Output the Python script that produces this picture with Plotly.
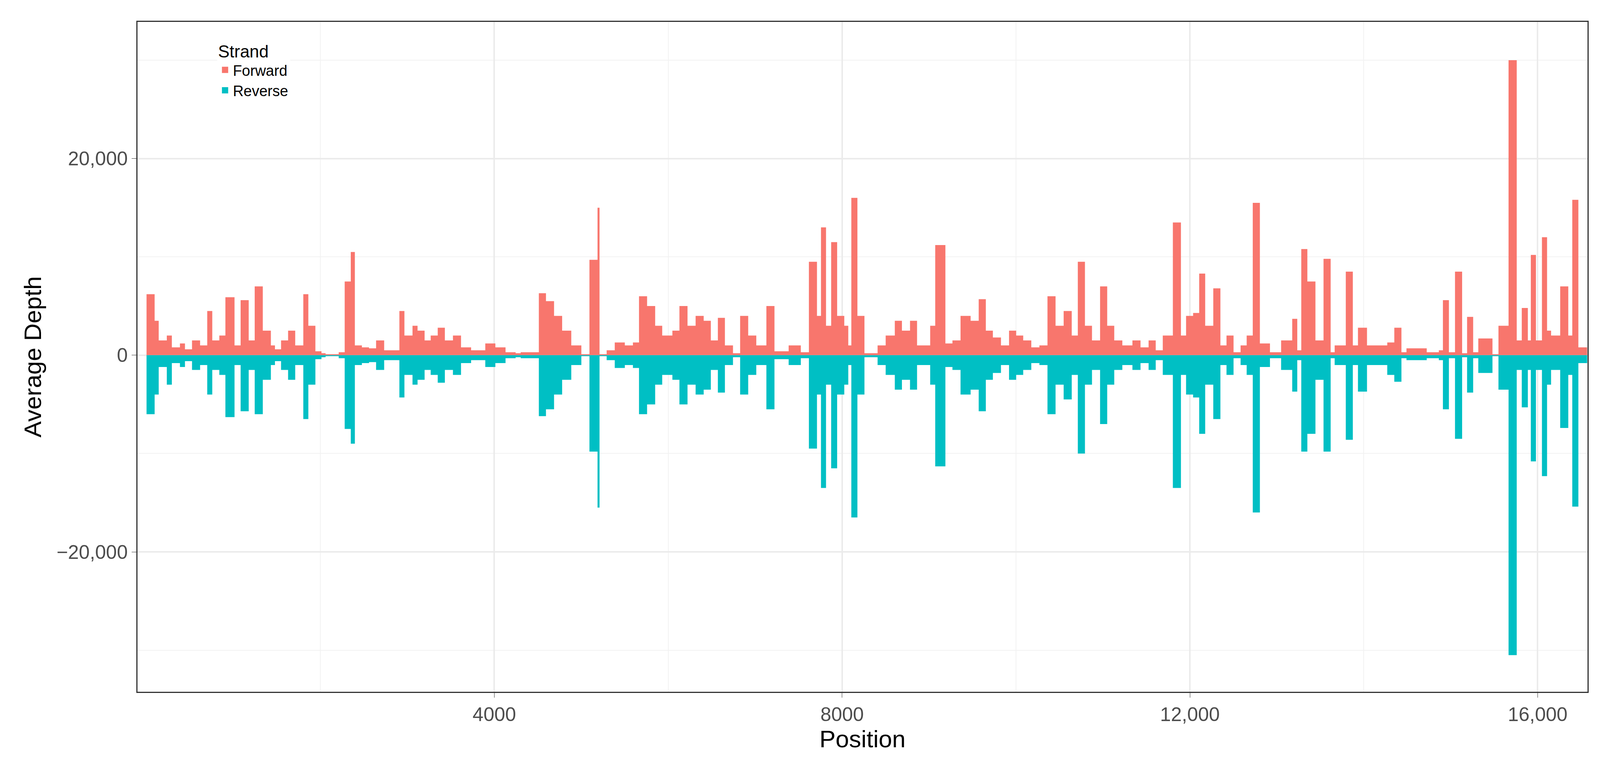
import plotly.graph_objects as go

# segment start positions (bp), forward and reverse average depth
starts = [0, 93, 140, 233, 291, 384, 442, 523, 616, 698,
          756, 837, 907, 1012, 1082, 1175, 1244, 1337, 1430, 1477,
          1547, 1628, 1710, 1803, 1861, 1942, 2012, 2059, 2210, 2279,
          2349, 2396, 2477, 2559, 2640, 2733, 2908, 2966, 3059, 3117,
          3198, 3268, 3349, 3431, 3524, 3617, 3733, 3896, 4012, 4129,
          4245, 4303, 4512, 4594, 4687, 4780, 4885, 5001, 5094, 5187,
          5210, 5292, 5385, 5501, 5594, 5664, 5757, 5850, 5931, 6048,
          6129, 6222, 6315, 6408, 6490, 6571, 6652, 6745, 6827, 6920,
          7013, 7129, 7222, 7385, 7525, 7618, 7711, 7757, 7815, 7874,
          7943, 8025, 8071, 8106, 8176, 8257, 8408, 8501, 8606, 8688,
          8781, 8862, 8955, 9013, 9071, 9188, 9269, 9362, 9478, 9571,
          9653, 9734, 9827, 9920, 10002, 10083, 10176, 10269, 10362, 10455,
          10548, 10641, 10711, 10793, 10874, 10967, 11049, 11130, 11223, 11339,
          11432, 11525, 11607, 11688, 11804, 11897, 11956, 12037, 12107, 12176,
          12269, 12351, 12421, 12502, 12583, 12653, 12723, 12805, 12921, 13049,
          13177, 13235, 13281, 13351, 13444, 13537, 13619, 13665, 13793, 13874,
          13933, 14037, 14270, 14351, 14433, 14491, 14724, 14863, 14910, 14979,
          15049, 15131, 15188, 15258, 15317, 15480, 15549, 15665, 15759, 15817,
          15887, 15921, 15980, 16049, 16108, 16154, 16259, 16352, 16398, 16468]
genome_end = 16569

forward = [6200, 3500, 1500, 2000, 800, 1200, 600, 1500, 1000, 4500,
           1500, 2000, 5900, 1000, 5600, 1500, 7000, 2500, 1000, 600,
           1500, 2500, 1000, 6200, 3000, 400, 200, 100, 300, 7500,
           10500, 1000, 800, 700, 1500, 500, 4500, 2000, 3000, 2500,
           1500, 2000, 2800, 1500, 2000, 800, 500, 1200, 800, 300,
           200, 300, 6300, 5500, 4000, 2500, 1000, 100, 9700, 15000,
           100, 500, 1300, 1000, 1300, 6000, 5000, 3000, 2000, 2500,
           5000, 3000, 4000, 3500, 1500, 3800, 1000, 200, 4000, 2000,
           1000, 5000, 400, 1000, 300, 9500, 4000, 13000, 3000, 11500,
           4000, 3000, 1000, 16000, 4000, 200, 1000, 2000, 3500, 2500,
           3500, 1000, 1000, 3000, 11200, 1200, 1500, 4000, 3500, 5700,
           2500, 1800, 1000, 2500, 2000, 1500, 800, 1000, 6000, 3000,
           4500, 2000, 9500, 3000, 1500, 7000, 3000, 1500, 1000, 1500,
           800, 1500, 500, 2000, 13500, 2000, 4000, 4300, 8300, 3000,
           6800, 1000, 2000, 300, 1000, 2000, 15500, 1200, 300, 1500,
           3700, 500, 10800, 7500, 1500, 9800, 300, 1000, 8500, 1000,
           2800, 1000, 1300, 2800, 300, 700, 300, 500, 5600, 300,
           8500, 200, 3900, 300, 1700, 100, 3000, 30000, 1500, 4800,
           1500, 10200, 1500, 12000, 2500, 2000, 7000, 2000, 15800, 800]

reverse = [6000, 4000, 1200, 3000, 800, 1200, 600, 1500, 1000, 4000,
           1500, 2000, 6300, 1000, 5700, 1500, 6000, 2500, 1000, 600,
           1500, 2500, 1000, 6500, 3000, 400, 200, 100, 300, 7500,
           9000, 1000, 800, 700, 1500, 500, 4300, 2000, 3000, 2500,
           1500, 2000, 2800, 1500, 2000, 800, 500, 1200, 800, 300,
           200, 300, 6200, 5500, 4000, 2500, 1000, 100, 9800, 15500,
           100, 500, 1300, 1000, 1300, 6000, 5000, 3000, 2000, 2500,
           5000, 3000, 4000, 3500, 1500, 3800, 1000, 200, 4000, 2000,
           1000, 5500, 400, 1000, 300, 9500, 4000, 13500, 3000, 11500,
           4000, 3000, 1000, 16500, 4000, 200, 1000, 2000, 3500, 2500,
           3500, 1000, 1000, 3000, 11300, 1200, 1500, 4000, 3500, 5700,
           2500, 1800, 1000, 2500, 2000, 1500, 800, 1000, 6000, 3000,
           4500, 2000, 10000, 3000, 1500, 7000, 3000, 1500, 1000, 1500,
           800, 1500, 500, 2000, 13500, 2000, 4000, 4300, 8000, 3000,
           6500, 1000, 2000, 300, 1000, 2000, 16000, 1200, 300, 1500,
           3700, 500, 9800, 8000, 2500, 9800, 300, 1000, 8600, 1000,
           3700, 1000, 2000, 2700, 300, 500, 300, 500, 5500, 300,
           8500, 200, 3800, 300, 1800, 100, 3500, 30500, 1500, 5300,
           1500, 10800, 1500, 12300, 3000, 1500, 7400, 2000, 15400, 800]

x_ticks = [4000, 8000, 12000, 16000]
x_tick_labels = ["4000", "8000", "12,000", "16,000"]
y_ticks = [-20000, 0, 20000]
y_tick_labels = ["\u221220,000", "0", "20,000"]

FWD_COLOR = "#F8766D"
REV_COLOR = "#00BFC4"

xs = starts + [genome_end]
fig = go.Figure()
fig.add_trace(go.Scatter(x=xs, y=forward + [forward[-1]], mode="lines", line=dict(shape="hv", width=0, color=FWD_COLOR),
                         fill="tozeroy", fillcolor=FWD_COLOR, name="Forward", showlegend=False))
fig.add_trace(go.Scatter(x=xs, y=[-v for v in reverse] + [-reverse[-1]], mode="lines", line=dict(shape="hv", width=0, color=REV_COLOR),
                         fill="tozeroy", fillcolor=REV_COLOR, name="Reverse", showlegend=False))
# legend keys
fig.add_trace(go.Scatter(x=[None], y=[None], mode="markers", name="Forward",
                         marker=dict(symbol="square", size=80, color=FWD_COLOR)))
fig.add_trace(go.Scatter(x=[None], y=[None], mode="markers", name="Reverse",
                         marker=dict(symbol="square", size=80, color=REV_COLOR)))

fig.update_layout(
    autosize=True,
    paper_bgcolor="white", plot_bgcolor="white",
    margin=dict(l=344, r=40, t=48, b=180),
    font=dict(family="Liberation Sans, Arial", color="black"),
    legend=dict(title=dict(text="Strand", font=dict(size=44)), font=dict(size=38),
                x=0.055, y=0.98, xanchor="left", yanchor="top",
                bgcolor="white", itemsizing="trace", tracegroupgap=10),
    showlegend=True,
)
fig.update_xaxes(range=[-104, 16573], tickvals=x_ticks, ticktext=x_tick_labels,
                 tickfont=dict(size=50, color="#4D4D4D"), ticks="outside", ticklen=12, tickcolor="#333333",
                 showgrid=True, gridcolor="#EBEBEB", gridwidth=4,
                 minor=dict(tickvals=[2000, 6000, 10000, 14000], showgrid=True, gridcolor="#F2F2F2", gridwidth=2),
                 showline=True, linecolor="#333333", linewidth=3, mirror=True, zeroline=False,
                 title=dict(text="Position", font=dict(size=62), standoff=10))
fig.update_yaxes(range=[-34230, 33900], tickvals=y_ticks, ticktext=y_tick_labels,
                 tickfont=dict(size=50, color="#4D4D4D"), ticks="outside", ticklen=12, tickcolor="#333333",
                 showgrid=True, gridcolor="#EBEBEB", gridwidth=4,
                 minor=dict(tickvals=[-30000, -10000, 10000, 30000], showgrid=True, gridcolor="#F2F2F2", gridwidth=2),
                 showline=True, linecolor="#333333", linewidth=3, mirror=True, zeroline=False,
                 title=dict(text="Average Depth", font=dict(size=62), standoff=20))

fig.write_html("out.html", default_width="100vw", default_height="100vh",
               config={"responsive": True})
